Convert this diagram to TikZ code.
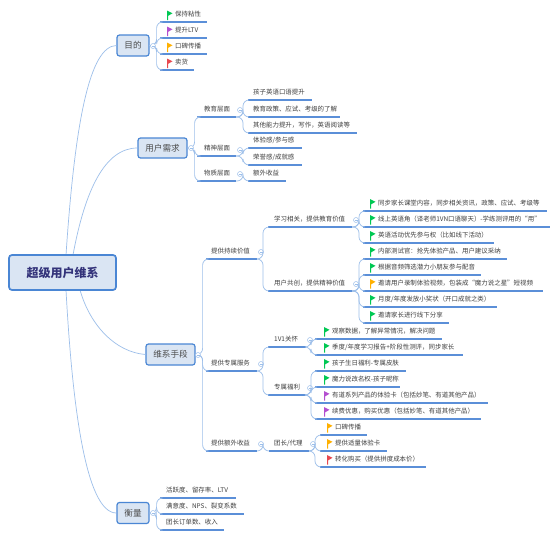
\documentclass[tikz,border=0pt]{standalone}
\usepackage{fontspec}
\setmainfont{Noto Sans CJK SC}
\definecolor{cline}{HTML}{9DBFEA}
\definecolor{cunder}{HTML}{5B8FD8}
\definecolor{cbord}{HTML}{4A86D4}
\definecolor{cfill}{HTML}{DAE5F3}
\definecolor{cgreen}{HTML}{00C853}
\definecolor{corange}{HTML}{FFB000}
\definecolor{cpurple}{HTML}{B44FD0}
\definecolor{cred}{HTML}{E8484F}
\tikzset{
  every node/.style={font=\fontsize{6.45}{8}\selectfont, text=black!75},
  root/.style={draw=cbord, line width=1.7pt, fill=cfill, rounded corners=3pt, inner sep=0pt, font=\fontsize{12}{14}\selectfont\bfseries, text=blue!35!black!80},
  topic/.style={draw=cbord, line width=1.2pt, fill=cfill, rounded corners=2.5pt, inner sep=0pt, font=\fontsize{8.6}{10}\selectfont, text=black!70},
  leaf/.style={anchor=south west, inner sep=0pt, text height=6pt, text depth=1.5pt, align=left},
  under/.style={color=cunder, line width=1.2pt},
  conn/.style={color=cline, line width=0.7pt, rounded corners=6pt},
  curve/.style={color=cline, line width=0.7pt},
  collapse/.style={circle, draw=cline, fill=white, line width=0.5pt, inner sep=0pt, minimum size=5pt}
}
% name, x0, x1, underline y, text x, text
\newcommand{\lf}[6]{%
  \coordinate (#1 L) at (#2,#4);
  \coordinate (#1 R) at (#3,#4);
  \node[leaf] (#1) at (#5,#4-3.5) {#6};
  \draw[under] (#1 L) -- (#1 R);
}
% colour, x, centre y
\newcommand{\flagat}[3]{%
  \fill[#1] (#2,#3-5) -- (#2+5.5,#3-2.2) -- (#2+1,#3+0.4) -- (#2+1,#3+4.5) -- (#2,#3+4.5) -- cycle;
}
% circle: name, x, y
\newcommand{\cc}[3]{%
  \node[collapse] (#1) at (#2,#3) {};
  \draw[cline, line width=0.5pt] (#2-1.5,#3) -- (#2+1.5,#3);
}
% connector: from point, bend offset, child
\newcommand{\cn}[3]{\draw[conn] (#1) -- ++(#2,0) |- (#3 L);}
\begin{document}
\begin{tikzpicture}[x=1pt,y=-1pt]
\useasboundingbox (0,0) rectangle (559,538);
\fill[white] (0,0) rectangle (559,538);

% anchors on the root
\coordinate (ra) at (66,255);
\coordinate (rb) at (73,255);
\coordinate (rc) at (80,290);
\coordinate (rd) at (66,290);

% topics
\node[topic, minimum width=32pt, minimum height=21pt] (mudi) at (133,45.5) {目的};
\node[topic, minimum width=49pt, minimum height=20pt] (xuqiu) at (162.5,148) {用户需求};
\node[topic, minimum width=49pt, minimum height=21pt] (shouduan) at (170.5,354.5) {维系手段};
\node[topic, minimum width=32pt, minimum height=21pt] (hengliang) at (133,513) {衡量};

% root curves
\draw[curve] (ra) .. controls (75,120) and (90,46) .. (mudi.west);
\draw[curve] (rb) .. controls (85,190) and (105,148) .. (xuqiu.west);
\draw[curve] (rc) .. controls (90,325) and (115,352) .. (shouduan.west);
\draw[curve] (rd) .. controls (72,400) and (85,513) .. (hengliang.west);

\node[root, minimum width=107pt, minimum height=35pt] (root) at (62.5,272.5) {超级用户维系};

% 目的
\lf{a1}{160}{207}{22}{175}{保持粘性}
\lf{a2}{160}{207}{38}{175}{提升LTV}
\lf{a3}{160}{207}{54}{175}{口碑传播}
\lf{a4}{160}{194}{70}{175}{卖货}
\flagat{cgreen}{167}{15.5}
\flagat{cpurple}{167}{31.5}
\flagat{corange}{167}{47.5}
\flagat{cred}{167}{63.5}
\cn{mudi.east}{7}{a1}
\cn{mudi.east}{7}{a2}
\cn{mudi.east}{7}{a3}
\cn{mudi.east}{7}{a4}
\cc{ca}{153}{46}

% 用户需求
\lf{b1}{197}{236}{117}{204}{教育层面}
\lf{b2}{197}{236}{156}{204}{精神层面}
\lf{b3}{197}{236}{181}{204}{物质层面}
\cn{xuqiu.east}{7}{b1}
\cn{xuqiu.east}{7}{b2}
\cn{xuqiu.east}{7}{b3}
\cc{cb}{191}{148}
\cc{cb1}{240}{110}
\cc{cb2}{240}{150}
\cc{cb3}{240}{174}
\lf{b11}{248}{312}{100}{253}{孩子英语口语提升}
\lf{b12}{248}{340}{117}{253}{教育政策、应试、考级的了解}
\lf{b13}{248}{357}{133}{253}{其他能力提升，写作，英语阅读等}
\lf{b21}{248}{302}{148}{253}{体验感/参与感}
\lf{b22}{248}{302}{165}{253}{荣誉感/成就感}
\lf{b31}{248}{286}{181}{253}{额外收益}
\cn{b1 R}{7}{b11}
\cn{b1 R}{7}{b12}
\cn{b1 R}{7}{b13}
\cn{b2 R}{7}{b21}
\cn{b2 R}{7}{b22}
\cn{b3 R}{7}{b31}

% 维系手段
\lf{c1}{206}{257}{259}{211}{提供持续价值}
\lf{c2}{206}{257}{371}{211}{提供专属服务}
\lf{c3}{206}{257}{451}{211}{提供额外收益}
\cn{shouduan.east}{7}{c1}
\cn{shouduan.east}{7}{c2}
\cn{shouduan.east}{7}{c3}
\cc{cc0}{198}{355}
\cc{cc1}{261}{252}
\cc{cc2}{261}{364}
\cc{cc3}{261}{444}

\lf{d1}{268}{352}{227}{274}{学习相关，提供教育价值}
\lf{d2}{268}{352}{291}{274}{用户共创，提供精神价值}
\lf{d3}{268}{306}{347}{274}{1V1关怀}
\lf{d4}{268}{306}{395}{274}{专属福利}
\lf{d5}{269}{309}{451}{274}{团长/代理}
\cn{c1 R}{6}{d1}
\cn{c1 R}{6}{d2}
\cn{c2 R}{6}{d3}
\cn{c2 R}{6}{d4}
\cn{c3 R}{6}{d5}
\cc{cd1}{356}{220}
\cc{cd2}{356}{284}
\cc{cd3}{310}{340}
\cc{cd4}{310}{388}
\cc{cd5}{313}{444}

% 学习相关
\lf{e1}{363}{547}{211}{378}{同步家长课堂内容，同步相关资讯，政策、应试、考级等}
\lf{e2}{363}{550}{227}{378}{线上英语角（译老师1VN口语聊天）-学练测评用的“用”}
\lf{e3}{363}{494}{243}{378}{英语活动优先参与权（比如线下活动）}
\flagat{cgreen}{370}{204}
\flagat{cgreen}{370}{220}
\flagat{cgreen}{370}{236}
\cn{d1 R}{7}{e1}
\cn{d1 R}{7}{e2}
\cn{d1 R}{7}{e3}

% 用户共创
\lf{f1}{363}{507}{259}{378}{内部测试官：抢先体验产品、用户建议采纳}
\lf{f2}{363}{481}{275}{378}{根据音频筛选潜力小朋友参与配音}
\lf{f3}{363}{543}{291}{378}{邀请用户录制体验视频，包装成“魔力说之星”短视频}
\lf{f4}{363}{497}{307}{378}{月度/年度发放小奖状（开口成就之类）}
\lf{f5}{363}{449}{323}{378}{邀请家长进行线下分享}
\flagat{cgreen}{370}{252}
\flagat{cgreen}{370}{268}
\flagat{corange}{370}{284}
\flagat{cgreen}{370}{300}
\flagat{cgreen}{370}{316}
\cn{d2 R}{7}{f1}
\cn{d2 R}{7}{f2}
\cn{d2 R}{7}{f3}
\cn{d2 R}{7}{f4}
\cn{d2 R}{7}{f5}

% 1V1关怀
\lf{g1}{315}{442}{339}{332}{观察数据，了解异常情况，解决问题}
\lf{g2}{315}{463}{355}{332}{季度/年度学习报告+阶段性测评，同步家长}
\flagat{cgreen}{324}{332}
\flagat{cgreen}{324}{348}
\cn{d3 R}{5}{g1}
\cn{d3 R}{5}{g2}

% 专属福利
\lf{h1}{315}{406}{371}{332}{孩子生日福利-专属皮肤}
\lf{h2}{315}{400}{387}{332}{魔力说改名权-孩子昵称}
\lf{h3}{315}{488}{403}{332}{有道系列产品的体验卡（包括妙笔、有道其他产品）}
\lf{h4}{315}{481}{419}{332}{续费优惠，购买优惠（包括妙笔、有道其他产品）}
\flagat{cgreen}{324}{364}
\flagat{cgreen}{324}{380}
\flagat{cpurple}{324}{396}
\flagat{cpurple}{324}{412}
\cn{d4 R}{5}{h1}
\cn{d4 R}{5}{h2}
\cn{d4 R}{5}{h3}
\cn{d4 R}{5}{h4}

% 团长/代理
\lf{i1}{320}{367}{435}{335}{口碑传播}
\lf{i2}{320}{387}{451}{335}{提供适量体验卡}
\lf{i3}{320}{426}{467}{335}{转化购买（提供拼度成本价）}
\flagat{corange}{327}{428}
\flagat{corange}{327}{444}
\flagat{cred}{327}{460}
\cn{d5 R}{6}{i1}
\cn{d5 R}{6}{i2}
\cn{d5 R}{6}{i3}

% 衡量
\lf{j1}{160}{236}{498}{166}{活跃度、留存率、LTV}
\lf{j2}{160}{244}{514}{166}{满意度、NPS、裂变系数}
\lf{j3}{160}{224}{530}{166}{团长订单数、收入}
\cn{hengliang.east}{7}{j1}
\cn{hengliang.east}{7}{j2}
\cn{hengliang.east}{7}{j3}
\cc{cj}{153}{513}
\end{tikzpicture}
\end{document}
